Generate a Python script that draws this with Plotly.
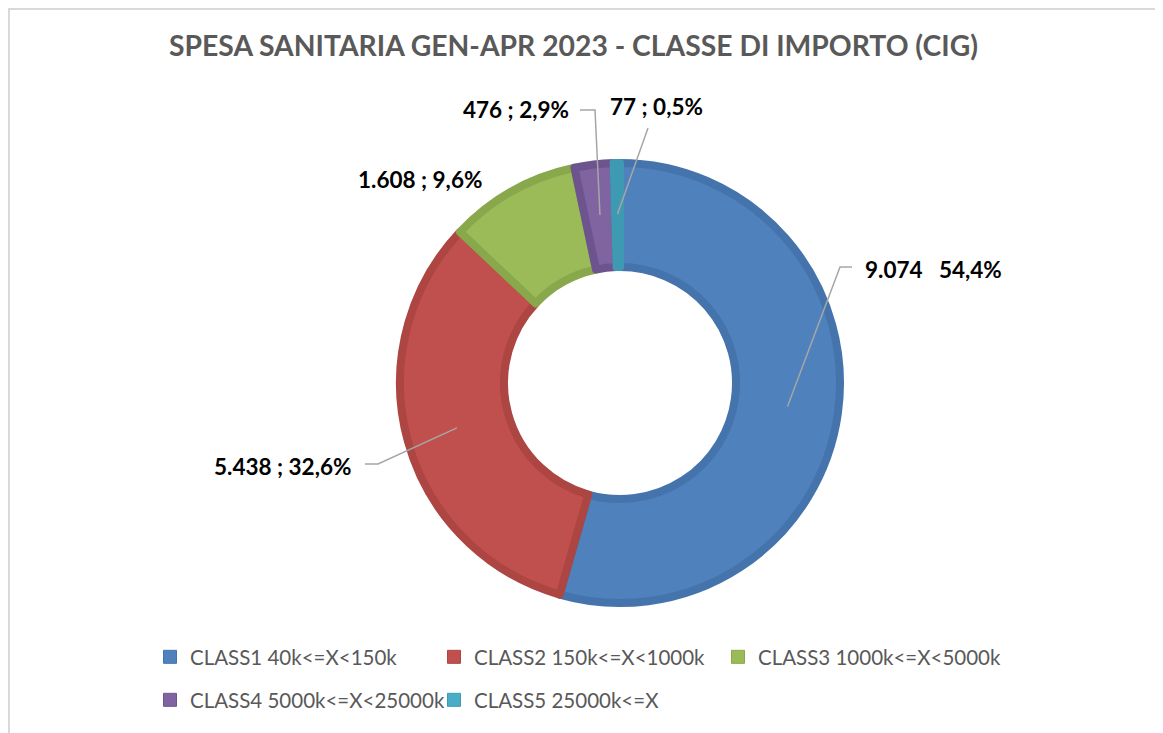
import math
import plotly.graph_objects as go

# ---- data ----
categories = ["CLASS1 40k<=X<150k", "CLASS2 150k<=X<1000k", "CLASS3 1000k<=X<5000k",
              "CLASS4 5000k<=X<25000k", "CLASS5 25000k<=X"]
values = [9074, 5438, 1608, 476, 77]
separators = ["\u00a0\u00a0\u00a0", " ; ", " ; ", " ; ", " ; "]
legend_rows = ["legend", "legend", "legend", "legend2", "legend2"]
title_text = "SPESA SANITARIA GEN-APR 2023 - CLASSE DI IMPORTO (CIG)"

# ---- style / layout ----
fill_colors = ["#4F81BD", "#C0504D", "#9BBB59", "#8064A2", "#4BACC6"]
line_colors = ["#4574AD", "#AD4542", "#89A84C", "#6E548F", "#3E9AB2"]
W, H = 1163, 733
OFF = 8  # page offset of the figure (body margin)
CX, CY, R_VIS = 620, 383, 224
LINE_W = 8
R = R_VIS - LINE_W / 2
HOLE = (112 + LINE_W / 2) / R
FONT = "Lato"

# label placement (page pixels): text anchor and leader-line elbow points (from anchor outward)
label_pos = [
    dict(x=863, y=269, xanchor="left", path=[(840, 267), (852, 267)]),
    dict(x=353, y=466, xanchor="right", path=[(378, 464), (365, 464)]),
    dict(x=484, y=179, xanchor="right", path=[]),
    dict(x=571, y=109, xanchor="right", path=[(595, 110), (580, 110)]),
    dict(x=608, y=107, xanchor="left", path=[(648, 128)]),
]


def px(x):
    return (x - OFF) / W


def py(y):
    return 1 - (y - OFF) / H


def fmt_int(v):
    return f"{v:,}".replace(",", ".")


total = sum(values)
fig = go.Figure()
fig.add_trace(go.Pie(
    labels=categories, values=values, hole=HOLE, sort=False, direction="clockwise",
    rotation=0, textinfo="none", hoverinfo="label+value+percent", showlegend=False,
    marker=dict(colors=fill_colors, line=dict(color=line_colors, width=LINE_W)),
    domain=dict(x=[px(CX - R), px(CX + R)], y=[py(CY + R), py(CY - R)]),
))

# legend entries (two rows, as in the original)
for i, c in enumerate(categories):
    fig.add_trace(go.Scatter(
        x=[None], y=[None], mode="markers", name=c, legend=legend_rows[i],
        marker=dict(symbol="square", size=13, color=fill_colors[i],
                    line=dict(color=line_colors[i], width=1)),
        hoverinfo="skip"))

annotations = []
shapes = []
cum = 0
for i, v in enumerate(values):
    mid = (cum + v / 2) / total * 2 * math.pi
    cum += v
    ax = CX + 0.755 * R_VIS * math.sin(mid)
    ay = CY - 0.755 * R_VIS * math.cos(mid)
    pct = f"{v / total * 100:.1f}".replace(".", ",") + "%"
    lp = label_pos[i]
    annotations.append(dict(
        x=px(lp["x"]), y=py(lp["y"]), xref="paper", yref="paper",
        text=f"<b>{fmt_int(v)}{separators[i]}{pct}</b>", showarrow=False,
        xanchor=lp["xanchor"], yanchor="middle",
        font=dict(family=FONT, size=22.5, color="#000000")))
    if lp["path"]:
        pts = [(ax, ay)] + lp["path"]
        d = "M " + " L ".join(f"{px(a)},{py(b)}" for a, b in pts)
        shapes.append(dict(type="path", path=d, xref="paper", yref="paper",
                           line=dict(color="#A6A6A6", width=1.5), layer="above"))

# outer chart frame
shapes.append(dict(type="rect", xref="paper", yref="paper",
                   x0=px(9), y0=-0.05, x1=1.05, y1=py(9),
                   line=dict(color="#D9D9D9", width=2), layer="below"))

annotations.append(dict(
    x=px(573), y=py(45), xref="paper", yref="paper", text=f"<b>{title_text}</b>",
    showarrow=False, xanchor="center", yanchor="middle",
    font=dict(family=FONT, size=28.3, color="#595959")))

legend_style = dict(orientation="h", xanchor="left", yanchor="middle",
                    entrywidth=239, entrywidthmode="pixels", traceorder="normal",
                    bgcolor="rgba(0,0,0,0)",
                    font=dict(family=FONT, size=20.5, color="#595959"))

fig.update_layout(
    width=W, height=H, margin=dict(l=0, r=0, t=0, b=0),
    paper_bgcolor="white", plot_bgcolor="white",
    annotations=annotations, shapes=shapes,
    showlegend=True,
    xaxis=dict(visible=False), yaxis=dict(visible=False),
    legend=dict(x=px(150), y=py(657), **legend_style),
    legend2=dict(x=px(150), y=py(700), **legend_style),
)

fig.write_html("out.html")
